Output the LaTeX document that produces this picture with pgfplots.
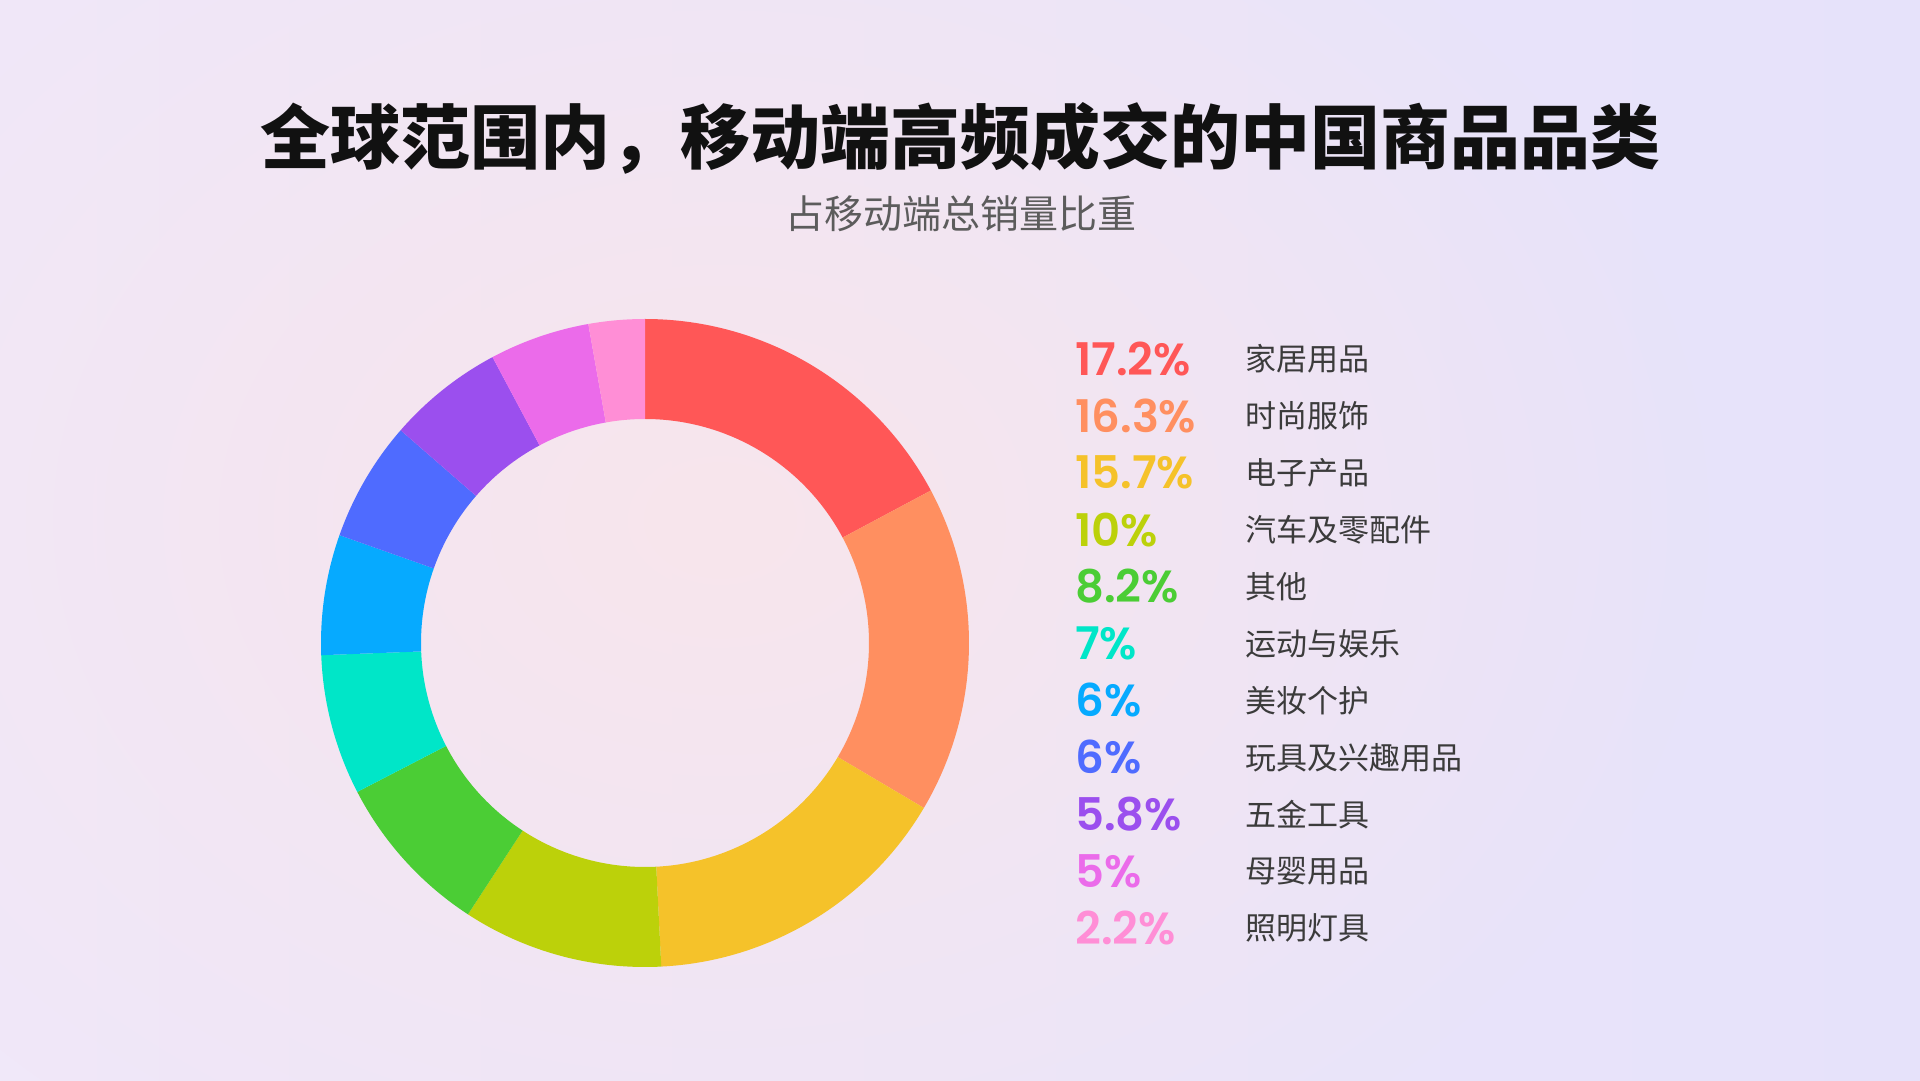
\documentclass[border=0pt]{standalone}
\usepackage{fontspec}
\usepackage{pgfplots}
\usepackage{pgfplotstable}
\pgfplotsset{compat=1.18}
\usetikzlibrary{fadings}
\setmainfont{Noto Sans CJK SC}
\newfontfamily\numfont{Poppins}[BoldFont={Poppins SemiBold}]

\definecolor{c0}{HTML}{FF5757}
\definecolor{c1}{HTML}{FF8F60}
\definecolor{c2}{HTML}{F5C22A}
\definecolor{c3}{HTML}{BCD10A}
\definecolor{c4}{HTML}{4BCD35}
\definecolor{c5}{HTML}{00E6C8}
\definecolor{c6}{HTML}{06AAFF}
\definecolor{c7}{HTML}{4F6BFF}
\definecolor{c8}{HTML}{9B4FEE}
\definecolor{c9}{HTML}{EB6BEA}
\definecolor{c10}{HTML}{FF8ED6}
\definecolor{titlecol}{HTML}{111111}
\definecolor{subcol}{HTML}{5C5C5C}
\definecolor{labcol}{HTML}{3B3B3B}
\definecolor{bgl}{HTML}{F0E8F9}
\definecolor{bgr}{HTML}{E6E2FA}
\definecolor{glow}{HTML}{F8E5EC}

\tikzfading[name=glowfade, inner color=transparent!0, outer color=transparent!100]

\pgfplotstableread[col sep=comma]{
name,value
家居用品,17.2
时尚服饰,16.3
电子产品,15.7
汽车及零配件,10
其他,8.2
运动与娱乐,7
美妆个护,6
玩具及兴趣用品,6
五金工具,5.8
母婴用品,5
照明灯具,2.2
}\datatable

\def\cumsum{0}
\pgfplotsforeachungrouped \i in {0,...,10}{%
  \pgfplotstablegetelem{\i}{value}\of\datatable
  \pgfmathsetmacro\sa{90-3.6*\cumsum}%
  \pgfmathsetmacro\newcum{\cumsum+\pgfplotsretval}%
  \xdef\cumsum{\newcum}%
  \pgfmathsetmacro\ea{90-3.6*\cumsum}%
  \expandafter\xdef\csname sa\i\endcsname{\sa}%
  \expandafter\xdef\csname ea\i\endcsname{\ea}%
}
% the ring is closed by the last slice
\expandafter\xdef\csname ea10\endcsname{-270}
\newcommand\SA[1]{\csname sa#1\endcsname}
\newcommand\EA[1]{\csname ea#1\endcsname}

\begin{document}
\begin{tikzpicture}
\shade[left color=bgl, right color=bgr] (0pt,0pt) rectangle (1920pt,1080pt);
\begin{scope}
\clip (0pt,0pt) rectangle (1920pt,1080pt);
\fill[glow, path fading=glowfade] (720pt,560pt) ellipse (1000pt and 760pt);
\end{scope}
\node[anchor=center, inner sep=0pt, text=titlecol, font=\fontsize{70pt}{84pt}\selectfont\bfseries] at (960pt,942pt) {全球范围内，移动端高频成交的中国商品品类};
\node[anchor=center, inner sep=0pt, text=subcol, font=\fontsize{39pt}{47pt}\selectfont] at (961pt,866pt) {占移动端总销量比重};

\begin{axis}[
  at={(645pt,437pt)}, anchor=center,
  scale only axis, width=648pt, height=648pt,
  xmin=-1, xmax=1, ymin=-1, ymax=1,
  hide axis, clip=false,
]
\pgfplotsinvokeforeach{0,...,10}{
  \fill[c#1] ([shift={(\SA{#1}:324pt)}]axis cs:0,0)
     arc[start angle=\SA{#1}, end angle=\EA{#1}, radius=324pt]
     -- ([shift={(\EA{#1}:224pt)}]axis cs:0,0)
     arc[start angle=\EA{#1}, end angle=\SA{#1}, radius=224pt] -- cycle;
}
\end{axis}

\foreach \i in {0,...,10}{
  \pgfplotstablegetelem{\i}{value}\of\datatable
  \let\v\pgfplotsretval
  \node[anchor=west, inner sep=0pt, text=c\i, font=\numfont\bfseries\fontsize{45pt}{52pt}\selectfont] at (1075pt,{(721-56.9*\i)*1pt}) {\v\%};
  \pgfplotstablegetelem{\i}{name}\of\datatable
  \node[anchor=west, inner sep=0pt, text=labcol, font=\fontsize{31pt}{37pt}\selectfont] at (1245pt,{(721-56.9*\i)*1pt}) {\pgfplotsretval};
}
\end{tikzpicture}
\end{document}
